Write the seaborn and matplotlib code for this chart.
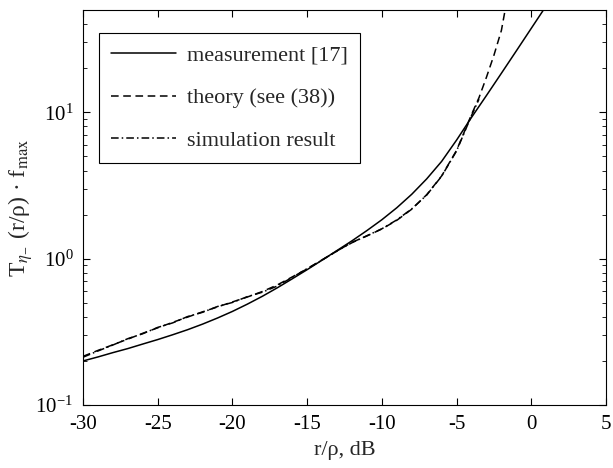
import matplotlib
matplotlib.use('Agg')
import matplotlib.pyplot as plt
import pandas as pd
import seaborn as sns

# values (x in dB, y on log scale)
meas_x = [-30, -29, -28, -27, -26, -25, -24, -23, -22, -21, -20, -19, -18, -17, -16,
          -15, -14, -13, -12, -11, -10, -9, -8, -7, -6, -5, -4, -3, -2, -1, 0, 0.8]
meas_y = [0.200, 0.213, 0.228, 0.243, 0.261, 0.280, 0.302, 0.327, 0.357, 0.393, 0.436,
          0.489, 0.553, 0.632, 0.728, 0.841, 0.977, 1.137, 1.324, 1.556, 1.845, 2.228,
          2.754, 3.508, 4.62, 6.46, 9.23, 13.03, 18.49, 26.3, 37.5, 49.8]

theo_x = [-30, -29, -28, -27, -26, -25, -24, -23, -22, -21, -20, -19, -18, -17, -16,
          -15, -14, -13, -12, -11, -10, -9, -8, -7, -6, -5, -4, -3.5, -3, -2.5, -2, -1.75]
theo_y = [0.215, 0.236, 0.258, 0.282, 0.309, 0.337, 0.367, 0.399, 0.433, 0.468, 0.506,
          0.547, 0.596, 0.661, 0.750, 0.851, 0.982, 1.127, 1.294, 1.429, 1.596, 1.828,
          2.178, 2.735, 3.673, 5.495, 9.66, 12.59, 17.38, 24.55, 36.3, 50.1]

sim_x = [-30, -29, -28, -27, -26, -25, -24, -23, -22, -21, -20, -19, -18, -17, -16,
         -15, -14, -13, -12, -11, -10, -9, -8, -7, -6, -5, -4, -3.5]
sim_y = [0.212, 0.234, 0.257, 0.284, 0.307, 0.339, 0.364, 0.402, 0.430, 0.471, 0.502,
         0.550, 0.590, 0.650, 0.745, 0.855, 0.978, 1.13, 1.285, 1.435, 1.60, 1.84,
         2.19, 2.72, 3.66, 5.45, 9.5, 12.3]

labels = ['measurement [17]', 'theory (see (38))', 'simulation result']

sns.set_style('ticks')
plt.rcParams['font.family'] = ['Liberation Serif', 'DejaVu Serif']
plt.rcParams['mathtext.fontset'] = 'stix'
plt.rcParams['axes.unicode_minus'] = False
plt.rcParams['font.size'] = 15

fig = plt.figure(figsize=(6.13, 4.68), dpi=100)
ax = fig.add_axes([0.1354, 0.1346, 0.8532, 0.844])

meas = pd.DataFrame({'x': meas_x, 'y': meas_y})
theo = pd.DataFrame({'x': theo_x, 'y': theo_y})
sim = pd.DataFrame({'x': sim_x, 'y': sim_y})

sns.lineplot(data=meas, x='x', y='y', ax=ax, color='black', linewidth=1.1,
             linestyle='-', label=labels[0])
sns.lineplot(data=theo, x='x', y='y', ax=ax, color='black', linewidth=1.1,
             linestyle=(0, (5, 3)), label=labels[1])
sns.lineplot(data=sim, x='x', y='y', ax=ax, color='black', linewidth=1.1,
             linestyle=(0, (5, 2, 1, 2)), label=labels[2])

ax.set_yscale('log')
ax.set_xlim(-30, 5)
ax.set_ylim(0.1, 50)
ax.set_xticks(range(-30, 6, 5))
ax.set_xticklabels([str(v) for v in range(-30, 6, 5)])

ax.tick_params(which='both', direction='in', top=True, right=True, colors='black')
ax.tick_params(which='major', length=5, width=0.8, labelsize=15)
ax.tick_params(axis='x', pad=7)
ax.tick_params(axis='y', pad=7)
ax.tick_params(which='minor', length=3, width=0.6)
for sp in ax.spines.values():
    sp.set_color('black')
    sp.set_linewidth(0.8)

ax.set_xlabel('r/ρ, dB', fontsize=16, labelpad=5)
ax.set_ylabel('T$_{\\eta_{-}}$ (r/ρ) · f$_{\\rm max}$', fontsize=17, labelpad=0)

leg = ax.legend(loc='upper left', bbox_to_anchor=(0.0306, 0.942), borderaxespad=0,
                fontsize=16, handlelength=2.9, handletextpad=0.5, labelspacing=1.0,
                borderpad=0.55, fancybox=False, framealpha=1, edgecolor='black')
leg.get_frame().set_linewidth(0.8)

fig.savefig('out.png', dpi=100)
